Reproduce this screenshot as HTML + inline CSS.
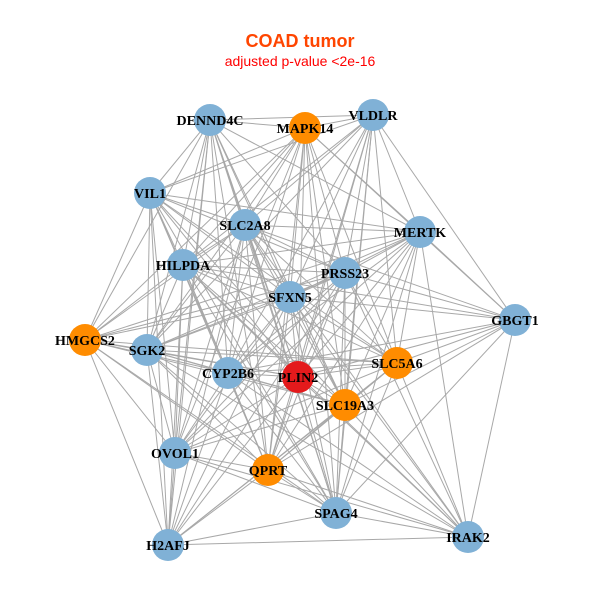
<!DOCTYPE html>
<html><head><meta charset="utf-8"><style>
html,body{margin:0;padding:0;background:#fff;}
svg{display:block;}
</style></head><body>
<svg id="s" width="600" height="600" xmlns="http://www.w3.org/2000/svg">
<rect width="600" height="600" fill="#fff"/>
<text x="300" y="47" text-anchor="middle" font-family="Liberation Sans, sans-serif" font-weight="bold" font-size="18" fill="#FF4500">COAD tumor</text>
<text x="300" y="66" text-anchor="middle" font-family="Liberation Sans, sans-serif" font-size="14" fill="#FF0000">adjusted p-value &lt;2e-16</text>
<g id="e" stroke="#a8a8a8" stroke-width="1"></g>
<g id="n"></g>
</svg>
<script>
var N=[["DENND4C",210,120,"b"],["MAPK14",305,128,"o"],["VLDLR",373,115,"b"],["VIL1",150,193,"b"],["SLC2A8",245,225,"b"],["MERTK",420,232,"b"],["HILPDA",183,265,"b"],["PRSS23",345,273,"b"],["SFXN5",290,297,"b"],["GBGT1",515,320,"b"],["HMGCS2",85,340,"o"],["SGK2",147,350,"b"],["SLC5A6",397,363,"o"],["CYP2B6",228,373,"b"],["PLIN2",298,377,"r"],["SLC19A3",345,405,"o"],["OVOL1",175,453,"b"],["QPRT",268,470,"o"],["SPAG4",336,513,"b"],["IRAK2",468,537,"b"],["H2AFJ",168,545,"b"]];
var col={b:"#80B1D6",o:"#FF8C00",r:"#E41A1C"};
var ns="http://www.w3.org/2000/svg",e=document.getElementById("e"),g=document.getElementById("n");
var skip={"0-9":1,"0-19":1,"2-10":1,"2-20":1,"3-9":1,"3-19":1,"9-10":1,"9-20":1,"10-19":1,"10-9":1,"1-19":1,"9-16":1,"9-11":1,"10-5":1,"5-20":1,"2-16":1,"0-12":1};
for(var i=0;i<N.length;i++)for(var j=i+1;j<N.length;j++){
 if(skip[i+"-"+j])continue;
 var d=Math.hypot(N[i][1]-N[j][1],N[i][2]-N[j][2]);
 if(d>420 && (i*7+j*3)%3)continue;
 var l=document.createElementNS(ns,"line");
 l.setAttribute("x1",N[i][1]);l.setAttribute("y1",N[i][2]);l.setAttribute("x2",N[j][1]);l.setAttribute("y2",N[j][2]);
 e.appendChild(l);}
N.forEach(function(a){
 var c=document.createElementNS(ns,"circle");c.setAttribute("cx",a[1]);c.setAttribute("cy",a[2]);c.setAttribute("r",16);c.setAttribute("fill",col[a[3]]);g.appendChild(c);});
N.forEach(function(a){
 var t=document.createElementNS(ns,"text");t.setAttribute("x",a[1]);t.setAttribute("y",a[2]+5);t.setAttribute("text-anchor","middle");
 t.setAttribute("font-family","Liberation Serif, serif");t.setAttribute("font-weight","bold");t.setAttribute("font-size","14");t.textContent=a[0];g.appendChild(t);});
</script>
</body></html>
